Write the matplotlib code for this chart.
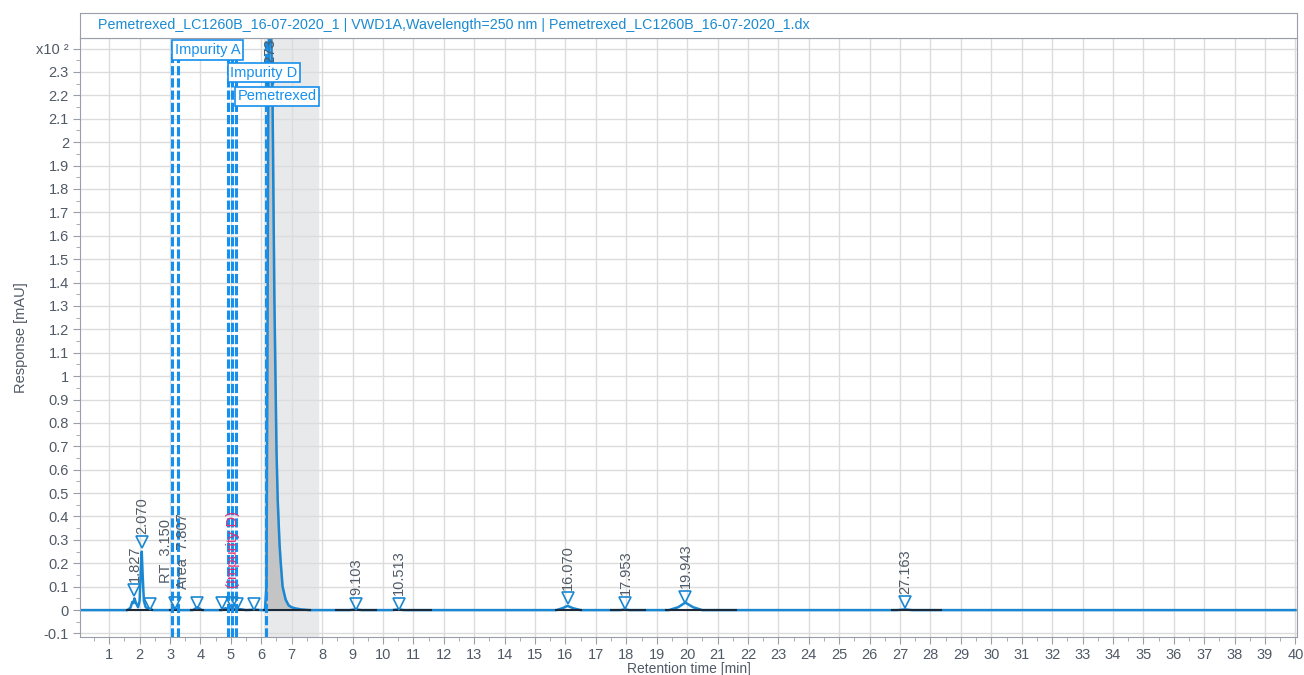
import numpy as np
import matplotlib.pyplot as plt
from matplotlib.ticker import MultipleLocator

plt.rcParams['font.family'] = ['Liberation Sans', 'DejaVu Sans']

# chromatogram trace (min, x100 mAU)
trace_t = [0.03, 1.60, 1.70, 1.76, 1.80, 1.83, 1.88, 1.95, 2.00, 2.04, 2.07, 2.10, 2.14,
           2.20, 2.30, 2.45, 3.05, 3.15, 3.25, 3.75, 3.90, 4.05, 4.70, 4.82, 4.95, 5.05,
           5.15, 5.30, 5.50, 5.80, 6.00, 6.12, 6.17, 6.20, 6.23, 6.27, 6.32, 6.37, 6.43,
           6.50, 6.54, 6.60, 6.64, 6.70, 6.80, 6.90, 7.00, 7.10, 7.30, 7.60, 8.90, 9.10,
           9.30, 10.30, 10.51, 10.70, 15.70, 15.90, 16.07, 16.25, 16.50, 17.80, 17.95,
           18.10, 19.40, 19.70, 19.94, 20.20, 20.50, 26.90, 27.16, 27.40, 40.0]
trace_y = [0, 0, 0.01, 0.035, 0.03, 0.05, 0.03, 0.012, 0.04, 0.18, 0.25, 0.15, 0.04,
           0.012, 0.006, 0, 0, 0.008, 0, 0, 0.012, 0, 0, 0.008, 0.004, 0.008,
           0.003, 0.004, 0, 0.002, 0, 0, 0.1, 1.0, 2.2, 2.7, 2.5, 2.18, 1.33,
           0.68, 0.47, 0.28, 0.2, 0.1, 0.045, 0.02, 0.012, 0.008, 0.003, 0, 0, 0.003,
           0, 0, 0.003, 0, 0, 0.008, 0.018, 0.008, 0, 0, 0.003,
           0, 0, 0.012, 0.032, 0.012, 0, 0, 0.003, 0, 0]

# labelled peaks
peak_rt = [1.827, 2.070, 9.103, 10.513, 16.070, 17.953, 19.943, 27.163]
peak_mark = [0.085, 0.29, 0.028, 0.028, 0.05, 0.03, 0.057, 0.034]
peak_text = ['1.827', '2.070', '9.103', '10.513', '16.070', '17.953', '19.943', '27.163']

# main peak (off scale)
main_rt = 6.273
main_mark = 2.25

# unlabelled peak markers
small_rt = [2.33, 3.15, 3.89, 4.71, 5.04, 5.20, 5.75]
small_mark = [0.025, 0.03, 0.03, 0.03, 0.03, 0.025, 0.025]

# integration baselines (start, end)
base_start = [1.60, 3.00, 3.70, 4.65, 6.10, 8.45, 10.37, 15.70, 17.50, 19.32, 26.75]
base_end = [2.40, 3.30, 4.10, 5.90, 7.60, 9.76, 11.57, 16.52, 18.60, 21.60, 28.35]

# compound windows
window_x = [3.08, 3.27, 4.90, 5.04, 5.16, 6.14]
compounds = ['Impurity A', 'Impurity D', 'Pemetrexed']
compound_x = [3.08, 4.90, 5.13]
compound_y = [2.394, 2.296, 2.195]

blue = '#1a87d2'
dash_blue = '#1590ee'
grey_txt = '#505a66'

fig = plt.figure(figsize=(13.04, 6.75), dpi=100)
ax = fig.add_axes([80 / 1304, 1 - 637 / 675, 1217 / 1304, 599 / 675])

ax.axvspan(6.1, 7.85, color='#e8e9eb', zorder=0)

t = np.array(trace_t)
y = np.array(trace_y)
m = (t >= 6.1) & (t <= 7.6)
ax.fill_between(t[m], 0, y[m], color='#c4c4c4', zorder=1)

for s, e in zip(base_start, base_end):
    ax.plot([s, e], [0, 0], color='#1a2a3a', lw=1.5, zorder=3)
ax.plot(t, y, color=blue, lw=1.8, zorder=2)

for xv in window_x:
    ax.axvline(xv, color=dash_blue, lw=2.2, ls=(0, (3, 1)), zorder=4)

ax.plot(peak_rt + [main_rt], peak_mark + [main_mark], 'v', mfc='none', mec=blue,
        ms=8.5, mew=1.2, zorder=5)
ax.plot(small_rt, small_mark, 'v', mfc='none', mec=blue, ms=8, mew=1.2, zorder=5)

for xv, yv, s in zip(peak_rt, peak_mark, peak_text):
    ax.annotate(s, (xv, yv), xytext=(0.5, 6), textcoords='offset points', rotation=90,
                ha='center', va='bottom', fontsize=10.5, color=grey_txt, zorder=6)

ax.text(main_rt + 0.03, 2.285, '6.273', rotation=90, ha='center', va='bottom', fontsize=10.5,
        color=grey_txt, zorder=6, clip_on=True)

ax.annotate('RT  3.150\nArea  7.807', (3.15, 0.03), xytext=(0, 10), textcoords='offset points',
            rotation=90, ha='center', va='bottom', fontsize=10.5, color=grey_txt,
            linespacing=1.25, zorder=6)
ax.annotate('(Impurity D)', (5.08, 0.03), xytext=(0, 11), textcoords='offset points',
            rotation=90, ha='center', va='bottom', fontsize=10.5, color='#e0307a', zorder=6)

for s, xv, yv in zip(compounds, compound_x, compound_y):
    ax.text(xv + 0.08, yv, s, ha='left', va='center', fontsize=10.5, color=dash_blue, zorder=8,
            bbox=dict(boxstyle='square,pad=0.18', fc='white', ec=dash_blue, lw=1.2))

ax.set_xlim(0.04, 40.05)
ax.set_ylim(-0.115, 2.445)
ax.set_xticks(range(1, 41))
ax.xaxis.set_minor_locator(MultipleLocator(0.5))
yt = np.round(np.arange(-0.1, 2.45, 0.1), 2)
ax.set_yticks(yt)
ylabels = ['%g' % v for v in yt]
ylabels[-1] = 'x10 ²'
ax.set_yticklabels(ylabels)
ax.yaxis.set_minor_locator(MultipleLocator(0.05))
ax.grid(True, which='major', color='#dcdcdc', lw=1)
ax.set_axisbelow(True)
ax.tick_params(which='both', colors='#9a9ea8', labelcolor=grey_txt, labelsize=10.5)
ax.tick_params(which='major', length=5, pad=3)
ax.tick_params(which='minor', length=3)
for sp in ax.spines.values():
    sp.set_color('#9a9ea8')
ax.set_xlabel('Retention time [min]', fontsize=10, color=grey_txt, labelpad=0)
ax.set_ylabel('Response [mAU]', fontsize=10.5, color=grey_txt, labelpad=6)

# title bar
tb = fig.add_axes([80 / 1304, 1 - 38 / 675, 1217 / 1304, 25 / 675])
tb.set_xticks([])
tb.set_yticks([])
for sp in tb.spines.values():
    sp.set_color('#9a9ea8')
tb.text(0.015, 0.5, 'Pemetrexed_LC1260B_16-07-2020_1 | VWD1A,Wavelength=250 nm | '
        'Pemetrexed_LC1260B_16-07-2020_1.dx', transform=tb.transAxes,
        ha='left', va='center', fontsize=10.3, color='#1b8bd0')

fig.savefig('out.png', dpi=100)
